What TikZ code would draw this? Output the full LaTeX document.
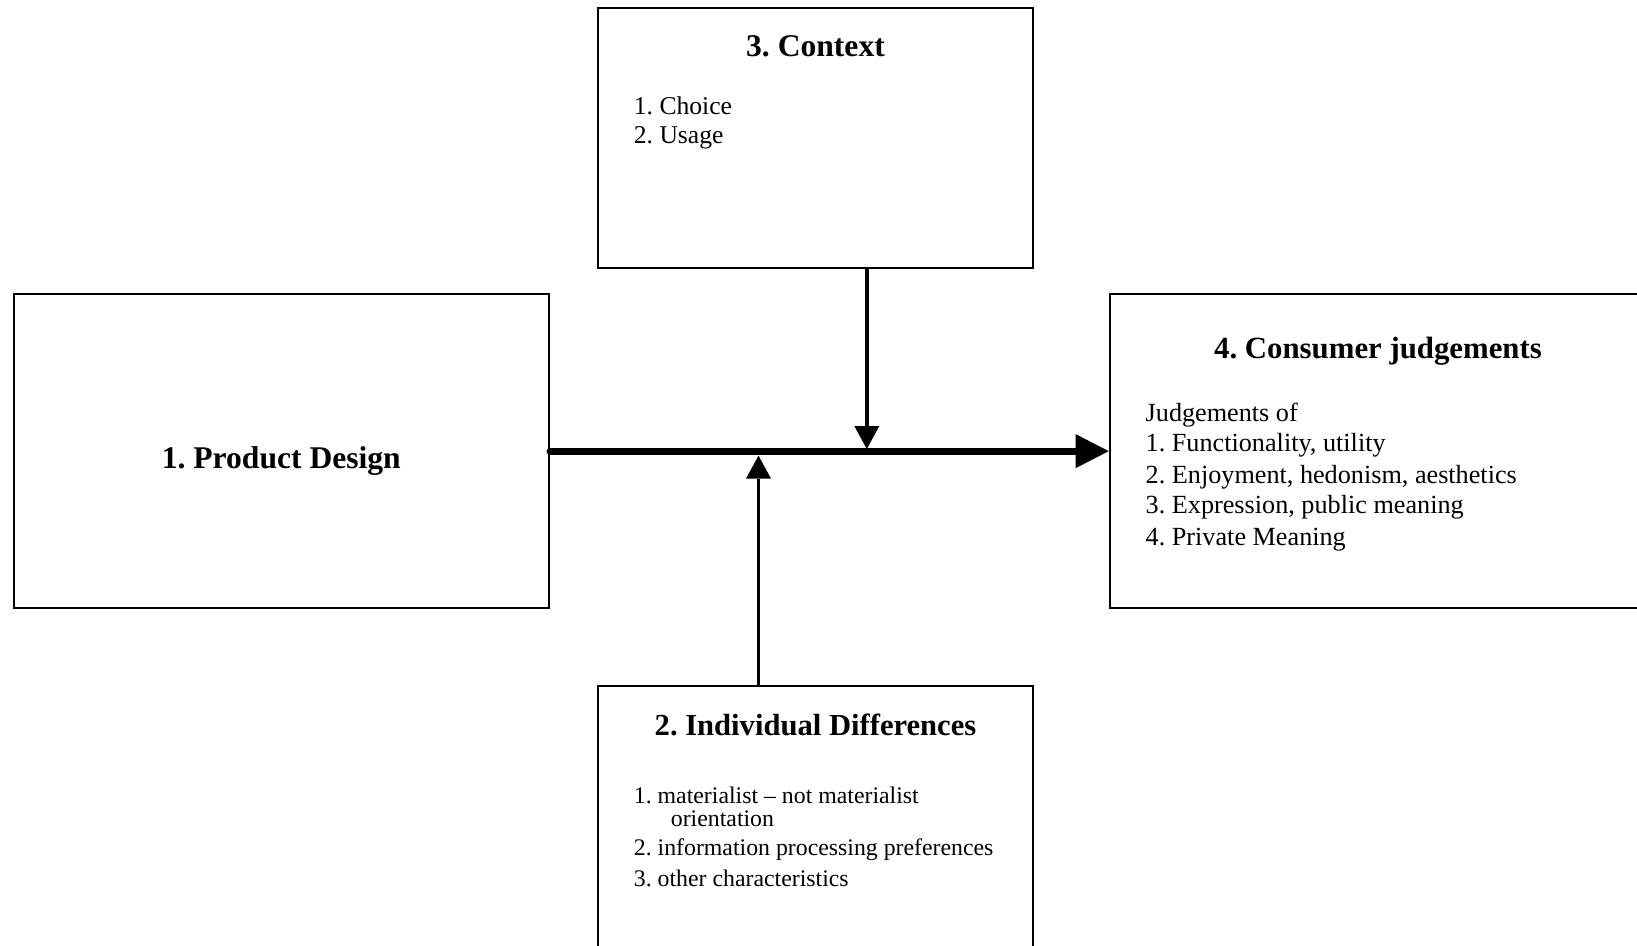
\documentclass[tikz,border=0pt]{standalone}
\usepackage{fontspec}
\setmainfont{Liberation Serif}
\usetikzlibrary{arrows.meta}
\frenchspacing
\begin{document}
\begin{tikzpicture}[x=0.5pt,y=-0.5pt,
  box/.style={draw, line width=0.9pt, rectangle, inner sep=0pt},
  ttl/.style={inner sep=0pt, anchor=base},
  txt/.style={inner sep=0pt, anchor=base west},
  mainarr/.style={line width=3.35pt, line cap=round, -{Triangle[length=16.5pt,width=17pt,line width=0pt]}},
  sidearr/.style={line width=1.9pt, -{Triangle[length=11.5pt,width=12.5pt,line width=0pt]}}]
\useasboundingbox (0,0) rectangle (1637,946);
\fill[white] (0,0) rectangle (1637,946);
\clip (0,0) rectangle (1637,946);
% boxes
\node[box, minimum width=217.2pt, minimum height=129.7pt] (ctx) at (815.5,138) {};
\node[box, minimum width=267.7pt, minimum height=157.15pt] (pd) at (281.3,451.15) {};
\node[box, minimum width=268.2pt, minimum height=157.15pt] (cj) at (1377.8,451.15) {};
\node[box, minimum width=217.2pt, minimum height=131pt] (idf) at (815.5,816.7) {};
% titles
\node[ttl, font=\fontsize{15.8}{19}\selectfont\bfseries] (ctxt) at (815.5,56.7) {3. Context};
\node[ttl, font=\fontsize{15.8}{19}\selectfont\bfseries] (pdt) at (281.3,468.3) {1. Product Design};
\node[ttl, font=\fontsize{15.4}{19}\selectfont\bfseries] (cjt) at (1378,358.3) {4. Consumer judgements};
\node[ttl, font=\fontsize{15.3}{19}\selectfont\bfseries] (idft) at (815.5,735) {2. Individual Differences};
% context list
\begin{scope}[every node/.style={font=\fontsize{12.8}{14}\selectfont}]
\node[txt] (c1) at (633.5,115) {1. Choice};
\node[txt] (c2) at (633.5,144) {2. Usage};
\end{scope}
% consumer list
\begin{scope}[every node/.style={font=\fontsize{13.1}{15}\selectfont}]
\node[txt] (j0) at (1145.3,421.7) {Judgements of};
\node[txt] (j1) at (1145.3,451.7) {1. Functionality, utility};
\node[txt] (j2) at (1145.3,483.3) {2. Enjoyment, hedonism, aesthetics};
\node[txt] (j3) at (1145.3,513.3) {3. Expression, public meaning};
\node[txt] (j4) at (1145.3,545) {4. Private Meaning};
\end{scope}
% individual differences list
\begin{scope}[every node/.style={font=\fontsize{11.9}{14}\selectfont}]
\node[txt] (d1) at (633.5,803.3) {1. materialist -- not materialist};
\node[txt] (d1b) at (670.5,826.7) {orientation};
\node[txt] (d2) at (633.5,855) {2. information processing preferences};
\node[txt] (d3) at (633.5,886.7) {3. other characteristics};
\end{scope}
% connectors
\coordinate (dt) at (866.8,449);
\coordinate (ut) at (758.5,455.6);
\draw[mainarr] (pd.east) -- (cj.west);
\draw[sidearr] (ctx.south -| dt) -- (dt);
\draw[sidearr] (idf.north -| ut) -- (ut);
\end{tikzpicture}
\end{document}
